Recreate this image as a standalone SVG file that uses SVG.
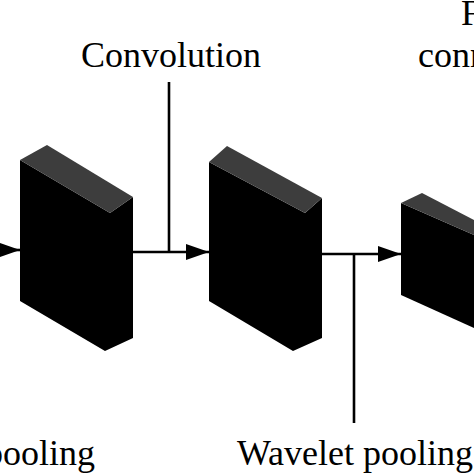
<svg xmlns="http://www.w3.org/2000/svg" width="474" height="474" viewBox="0 0 474 474">
<style>
text{font-family:"Liberation Serif","Times New Roman",serif;font-size:36px;fill:#000}
.body{fill:#000}
.top{fill:#3d3d3d}
.ln{stroke:#000;stroke-width:2.6;fill:none}
</style>
<defs>
<marker id="ah" markerUnits="userSpaceOnUse" markerWidth="24" markerHeight="18" refX="23" refY="8" orient="auto">
<polygon points="0,0 23,8 0,16" fill="#000"/>
</marker>
</defs>
<rect width="474" height="474" fill="#fff"/>
<g id="connectors">
<line class="ln" x1="-10" y1="250" x2="20" y2="250" marker-end="url(#ah)"/>
<line class="ln" x1="133" y1="252" x2="209" y2="252" marker-end="url(#ah)"/>
<line class="ln" x1="169" y1="82" x2="169" y2="252"/>
<line class="ln" x1="322" y1="254" x2="401" y2="254" marker-end="url(#ah)"/>
<line class="ln" x1="354" y1="254" x2="354" y2="423"/>
</g>
<g id="block1">
<polygon class="body" points="20,160 110,213 133,197 133,338 105,351 20,301"/>
<polygon class="top" points="20,160 47,145 133,197 110,213"/>
</g>
<g id="block2">
<polygon class="body" points="209,162 305,213 322,198 322,338 293,351 209,301"/>
<polygon class="top" points="209,162 227,146 322,198 305,213"/>
</g>
<g id="block3">
<polygon class="body" points="401,203 474,235 474,328 401,295"/>
<polygon class="top" points="401,203 422,193 474,220 474,235"/>
</g>
<g id="label-convolution"><text x="171" y="67" text-anchor="middle">Convolution</text></g>
<g id="label-fc"><text x="461" y="25">Fully</text><text x="418" y="67">connected</text></g>
<g id="label-pool1"><text x="95" y="465" text-anchor="end">pooling</text></g>
<g id="label-pool2"><text x="355" y="465" text-anchor="middle">Wavelet pooling</text></g>
</svg>
